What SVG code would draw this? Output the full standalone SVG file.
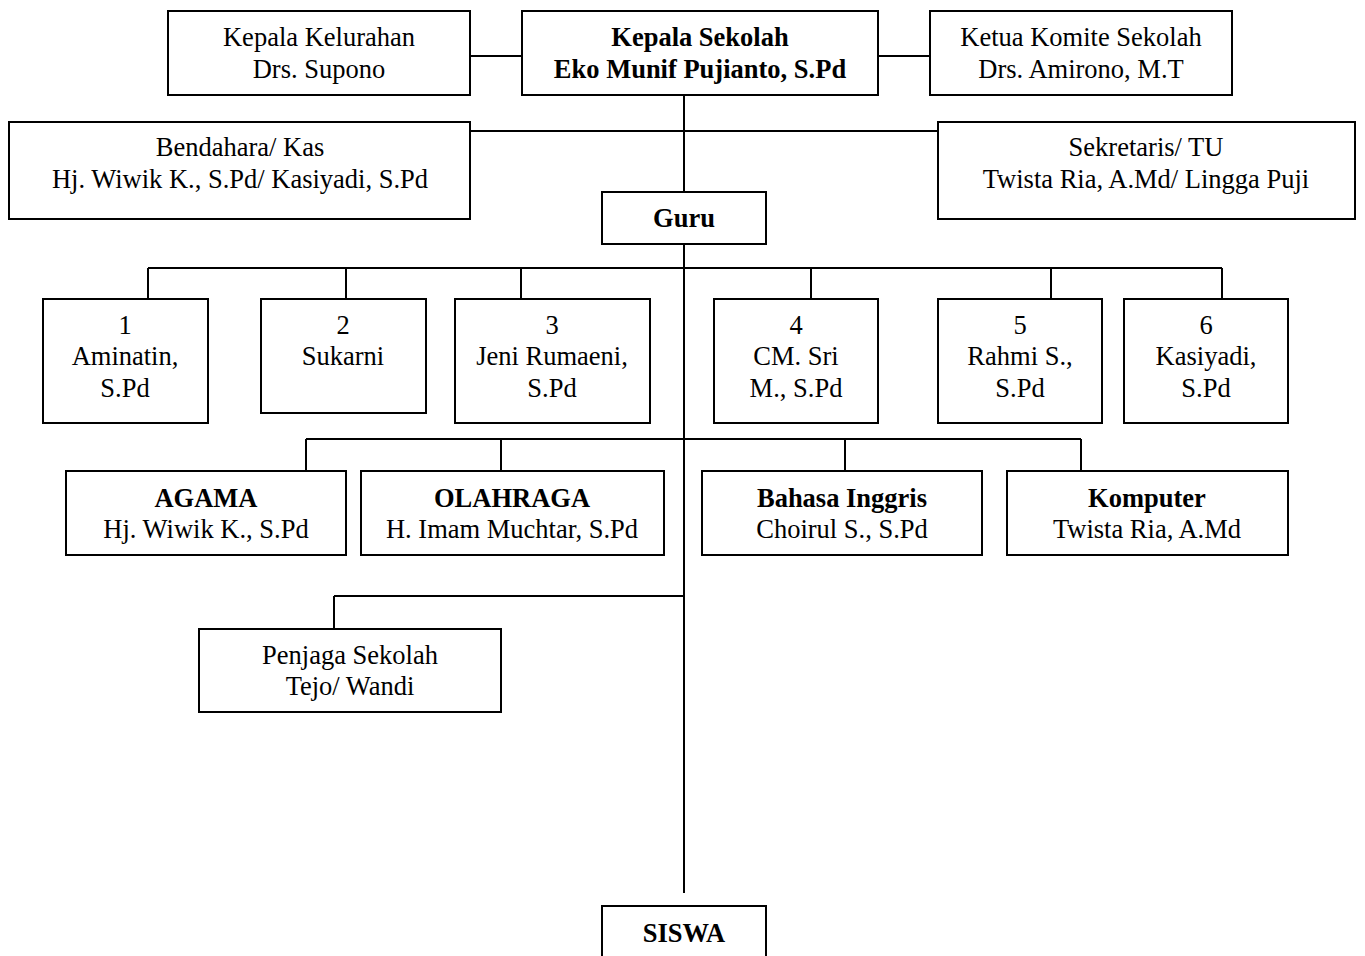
<svg xmlns="http://www.w3.org/2000/svg" width="1365" height="956" viewBox="0 0 1365 956">
<style>
rect{fill:#fff;stroke:#000;stroke-width:2}
text{font-family:"Liberation Serif","Times New Roman",serif;font-size:26.5px;fill:#000;text-anchor:middle}
.b{font-weight:bold}
#connectors line{stroke:#000;stroke-width:2}
</style>
<rect x="0" y="0" width="1365" height="956" style="fill:#fff;stroke:none"/>
<g id="connectors">
<line x1="470" y1="56" x2="522" y2="56"/>
<line x1="878" y1="56" x2="930" y2="56"/>
<line x1="684" y1="95" x2="684" y2="192"/>
<line x1="470" y1="131" x2="938" y2="131"/>
<line x1="684" y1="244" x2="684" y2="893"/>
<line x1="148" y1="268" x2="1222" y2="268"/>
<line x1="148" y1="268" x2="148" y2="299"/>
<line x1="346" y1="268" x2="346" y2="299"/>
<line x1="521" y1="268" x2="521" y2="299"/>
<line x1="811" y1="268" x2="811" y2="299"/>
<line x1="1051" y1="268" x2="1051" y2="299"/>
<line x1="1222" y1="268" x2="1222" y2="299"/>
<line x1="306" y1="439" x2="1081" y2="439"/>
<line x1="306" y1="439" x2="306" y2="471"/>
<line x1="501" y1="439" x2="501" y2="471"/>
<line x1="845" y1="439" x2="845" y2="471"/>
<line x1="1081" y1="439" x2="1081" y2="471"/>
<line x1="334" y1="596" x2="684" y2="596"/>
<line x1="334" y1="596" x2="334" y2="629"/>
</g>
<g id="kepala-kelurahan"><rect x="168" y="11" width="302" height="84"/><text x="319" y="46">Kepala Kelurahan</text><text x="319" y="78">Drs. Supono</text></g>
<g id="kepala-sekolah"><rect x="522" y="11" width="356" height="84"/><text class="b" x="700" y="46">Kepala Sekolah</text><text class="b" x="700" y="78">Eko Munif Pujianto, S.Pd</text></g>
<g id="ketua-komite"><rect x="930" y="11" width="302" height="84"/><text x="1081" y="46">Ketua Komite Sekolah</text><text x="1081" y="78">Drs. Amirono, M.T</text></g>
<g id="bendahara"><rect x="9" y="122" width="461" height="97"/><text x="240" y="156">Bendahara/ Kas</text><text x="240" y="188">Hj. Wiwik K., S.Pd/ Kasiyadi, S.Pd</text></g>
<g id="sekretaris"><rect x="938" y="122" width="417" height="97"/><text x="1146" y="156">Sekretaris/ TU</text><text x="1146" y="188">Twista Ria, A.Md/ Lingga Puji</text></g>
<g id="guru"><rect x="602" y="192" width="164" height="52"/><text class="b" x="684" y="227">Guru</text></g>
<g id="guru1"><rect x="43" y="299" width="165" height="124"/><text x="125" y="334">1</text><text x="125" y="365">Aminatin,</text><text x="125" y="397">S.Pd</text></g>
<g id="guru2"><rect x="261" y="299" width="165" height="114"/><text x="343" y="334">2</text><text x="343" y="365">Sukarni</text></g>
<g id="guru3"><rect x="455" y="299" width="195" height="124"/><text x="552" y="334">3</text><text x="552" y="365">Jeni Rumaeni,</text><text x="552" y="397">S.Pd</text></g>
<g id="guru4"><rect x="714" y="299" width="164" height="124"/><text x="796" y="334">4</text><text x="796" y="365">CM. Sri</text><text x="796" y="397">M., S.Pd</text></g>
<g id="guru5"><rect x="938" y="299" width="164" height="124"/><text x="1020" y="334">5</text><text x="1020" y="365">Rahmi S.,</text><text x="1020" y="397">S.Pd</text></g>
<g id="guru6"><rect x="1124" y="299" width="164" height="124"/><text x="1206" y="334">6</text><text x="1206" y="365">Kasiyadi,</text><text x="1206" y="397">S.Pd</text></g>
<g id="agama"><rect x="66" y="471" width="280" height="84"/><text class="b" x="206" y="507">AGAMA</text><text x="206" y="538">Hj. Wiwik K., S.Pd</text></g>
<g id="olahraga"><rect x="361" y="471" width="303" height="84"/><text class="b" x="512" y="507">OLAHRAGA</text><text x="512" y="538">H. Imam Muchtar, S.Pd</text></g>
<g id="bahasa-inggris"><rect x="702" y="471" width="280" height="84"/><text class="b" x="842" y="507">Bahasa Inggris</text><text x="842" y="538">Choirul S., S.Pd</text></g>
<g id="komputer"><rect x="1007" y="471" width="281" height="84"/><text class="b" x="1147" y="507">Komputer</text><text x="1147" y="538">Twista Ria, A.Md</text></g>
<g id="penjaga"><rect x="199" y="629" width="302" height="83"/><text x="350" y="664">Penjaga Sekolah</text><text x="350" y="695">Tejo/ Wandi</text></g>
<g id="siswa"><rect x="602" y="906" width="164" height="60"/><text class="b" x="684" y="942">SISWA</text></g>
</svg>
